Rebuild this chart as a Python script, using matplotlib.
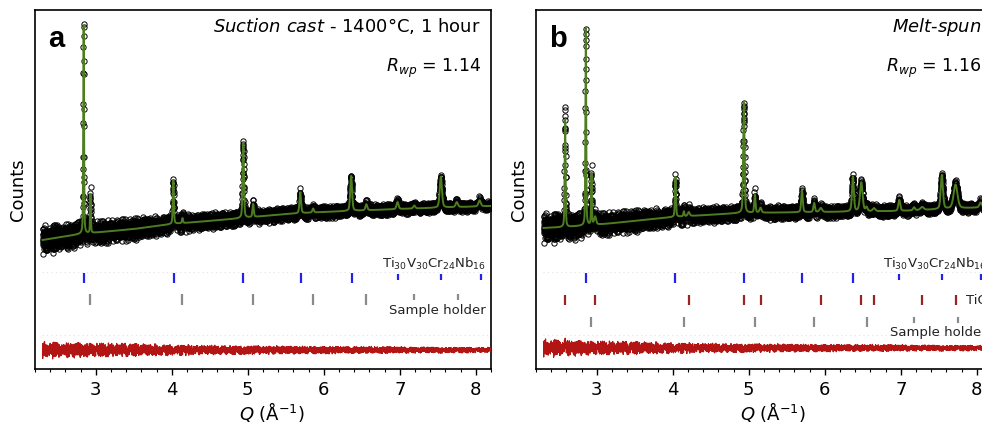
import numpy as np
import matplotlib
matplotlib.use("Agg")
import matplotlib.pyplot as plt
from matplotlib.ticker import MultipleLocator

# ---------------- data ----------------
q_start, q_stop, q_step = 2.3, 8.2, 0.0012

# panel a : suction cast
bg_q_a = [2.3, 2.8, 3.5, 4.0, 4.8, 5.5, 6.0, 7.0, 8.2]
bg_y_a = [129, 135, 140, 145, 150, 155, 157, 160, 163]
peak_q_a = [2.84, 2.93, 4.02, 4.14, 4.94, 5.07, 5.69, 5.86, 6.36, 6.56, 6.97, 7.19, 7.54, 7.75, 8.05]
peak_fit_a = [208, 38, 44, 5, 75, 13, 21, 4, 35, 6, 7, 3, 31, 5, 6]
peak_obs_a = [204, 37, 42, 5, 71, 13, 20, 4, 33, 6, 7, 3, 30, 5, 6]
peak_w_a = [0.012, 0.012, 0.016, 0.016, 0.020, 0.020, 0.024, 0.024, 0.028, 0.028,
            0.030, 0.030, 0.034, 0.034, 0.036]

# panel b : melt-spun
bg_q_b = [2.3, 2.6, 3.1, 4.0, 4.9, 6.0, 7.0, 8.2]
bg_y_b = [141, 142, 145, 152, 156, 157, 158, 162]
peak_q_b = [2.583, 2.855, 2.93, 2.978, 4.035, 4.145, 4.21, 4.935, 5.08, 5.154, 5.70, 5.86,
            5.947, 6.37, 6.48, 6.55, 6.648, 6.98, 7.175, 7.28, 7.54, 7.72, 8.05]
peak_fit_b = [107, 199, 51, 8, 40, 5, 4, 111, 18, 5, 22, 9, 4, 35, 29, 4, 3, 11, 3, 3, 34, 24, 5]
peak_obs_b = [115, 195, 50, 8, 39, 5, 4, 107, 18, 5, 21, 9, 4, 34, 29, 4, 3, 11, 3, 3, 33, 24, 5]
peak_w_b = [0.014, 0.012, 0.012, 0.030, 0.016, 0.016, 0.030, 0.020, 0.020, 0.030, 0.024, 0.024,
            0.040, 0.028, 0.040, 0.028, 0.040, 0.030, 0.030, 0.050, 0.034, 0.060, 0.036]

# scatter half-width of the observed band vs Q
noise_q = [2.3, 3.0, 4.0, 5.0, 6.0, 7.0, 8.2]
noise_amp_a = [16, 13, 10, 8, 7, 6, 5]
noise_amp_b = [17, 13, 10, 8, 7, 6, 5]

# counting-noise offsets (typed sequence)
noise_seq_1 = [0.12, -0.85, 0.47, -0.33, 0.91, -0.06, -0.58, 0.29, 0.74, -0.97, 0.38, -0.21, 0.63,
               -0.72, 0.05, 0.88, -0.44, -0.13, 0.56, -0.67, 0.21, 0.97, -0.38, -0.81, 0.43, 0.09,
               -0.52, 0.69, -0.26, 0.34, -0.93, 0.77, -0.02, -0.61, 0.18, 0.83, -0.47, 0.26, -0.75,
               0.59, -0.17, 0.94, -0.36, -0.08, 0.51, -0.89, 0.32, 0.67, -0.55, 0.03, -0.29, 0.81,
               -0.64, 0.15, 0.45, -0.99, 0.71, -0.11, -0.42, 0.23, 0.86, -0.69, 0.37, -0.24, 0.61,
               -0.83, 0.07, 0.53, -0.49, -0.15, 0.95, -0.31, 0.27, -0.77, 0.65, 0.01, -0.57, 0.41,
               -0.91, 0.19, 0.73, -0.35, -0.04, 0.89, -0.63, 0.31, -0.19, 0.57, -0.87, 0.11, 0.79,
               -0.41, -0.23, 0.49, -0.71, 0.25, 0.93, -0.53, 0.39, -0.09, -0.79]
noise_seq_2 = [-0.44, 0.71, 0.16, -0.92, 0.53, -0.27, 0.84, -0.61, 0.02, 0.38, -0.76, 0.95, -0.13,
               -0.49, 0.67, 0.24, -0.86, 0.41, -0.07, 0.79, -0.58, 0.33, -0.97, 0.12, 0.62, -0.31,
               -0.69, 0.88, 0.06, -0.42, 0.55, -0.83, 0.27, 0.91, -0.18, -0.64, 0.47, 0.14, -0.95,
               0.73, -0.36, 0.21, -0.53, 0.85, -0.09, 0.59, -0.78, 0.35, -0.22, 0.99, -0.66, 0.08,
               0.44, -0.88, 0.29, -0.14, 0.76, -0.51, 0.18, -0.73, 0.64, -0.03, -0.39, 0.82, -0.93,
               0.49, 0.11, -0.59, 0.37, -0.25, 0.69, -0.81, 0.04]

# reflection tick marks (Q positions) and which ones are drawn short
bcc_q_a = [2.84, 4.03, 4.94, 5.70, 6.37, 6.98, 7.54, 8.07]
bcc_short_a = [0, 0, 0, 0, 0, 1, 1, 1]
holder_q_a = [2.93, 4.14, 5.07, 5.86, 6.56, 7.19, 7.76]
holder_short_a = [0, 0, 0, 0, 0, 1, 1]

bcc_q_b = [2.855, 4.035, 4.94, 5.70, 6.37, 6.98, 7.54, 8.05]
bcc_short_b = [0, 0, 0, 0, 0, 1, 1, 1]
tic_q_b = [2.583, 2.978, 4.21, 4.934, 5.154, 5.947, 6.48, 6.648, 7.28, 7.72]
tic_short_b = [0] * 10
holder_q_b = [2.93, 4.145, 5.08, 5.86, 6.55, 7.175, 7.75]
holder_short_b = [0, 0, 0, 0, 0, 1, 1]

title_a = r"$\it{Suction\ cast}$ - 1400°C, 1 hour"
title_b = r"$\it{Melt}$-$\it{spun}$"
rwp_a = r"$R_{wp}$ = 1.14"
rwp_b = r"$R_{wp}$ = 1.16"
label_bcc = r"Ti$_{30}$V$_{30}$Cr$_{24}$Nb$_{16}$"
label_holder = "Sample holder"
label_tic = "TiC"
xticks = [3, 4, 5, 6, 7, 8]

residual_scale = 0.6
resid_offset_a = 19
resid_offset_b = 21

# ---------------- helpers ----------------
def profile(q, centers, heights, widths, eta=0.4):
    out = np.zeros_like(q)
    for c, h, w in zip(centers, heights, widths):
        d2 = 4.0 * (q - c) ** 2 / w ** 2
        out += h * (eta / (1.0 + d2) + (1 - eta) * np.exp(-np.log(2) * d2))
    return out


q = np.arange(q_start, q_stop, q_step)
idx = np.arange(q.size)
n1 = np.asarray(noise_seq_1)[idx % len(noise_seq_1)]
n2 = np.asarray(noise_seq_2)[(idx * 3) % len(noise_seq_2)]
unit_noise = 0.5 * (n1 + n2)


def build(bg_q, bg_y, pq, pfit, pobs, pw, amp):
    bg = np.interp(q, bg_q, bg_y)
    fit = bg + profile(q, pq, pfit, pw)
    obs = bg + profile(q, pq, pobs, pw) + unit_noise * np.interp(q, noise_q, amp)
    return obs, fit


obs_a, fit_a = build(bg_q_a, bg_y_a, peak_q_a, peak_fit_a, peak_obs_a, peak_w_a, noise_amp_a)
obs_b, fit_b = build(bg_q_b, bg_y_b, peak_q_b, peak_fit_b, peak_obs_b, peak_w_b, noise_amp_b)

# ---------------- figure ----------------
W, H = 982, 429
fig = plt.figure(figsize=(W / 100, H / 100), dpi=100)
ax_w = 456 / W
ax_h = 359 / H
ax_b = 60 / H
axA = fig.add_axes([35 / W, ax_b, ax_w, ax_h])
axB = fig.add_axes([536 / W, ax_b, ax_w, ax_h])

GREEN = "#4e7d1f"
RED = "#b31414"
BLUE = "#2222ee"
DKRED = "#9a2424"
GREY = "#8a8a8a"


def tickrow(ax, qs, shorts, y0, y1, color, anchor):
    for qq, s in zip(qs, shorts):
        if s:
            if anchor == "bottom":
                lo, hi = y0 + 0.35 * (y1 - y0), y1 - 0.1 * (y1 - y0)
            else:
                lo, hi = y1 - 0.55 * (y1 - y0), y1
        else:
            lo, hi = y0, y1
        ax.vlines(qq, lo, hi, color=color, lw=1.6, zorder=3)


def panel(ax, obs, fit, offset, letter, title, rwp, rows, labels):
    ax.plot(q, obs, ls="none", marker="o", ms=3.8, mfc="none", mec="black", mew=0.7, zorder=2)
    ax.plot(q, fit, color=GREEN, lw=1.4, zorder=4)
    ax.plot(q, offset + residual_scale * (obs - fit), color=RED, lw=0.9, zorder=3)
    for yy in (97, 34):
        ax.axhline(yy, xmin=0.015, xmax=1.0, color="#e2e2e2", ls=(0, (1, 3)), lw=0.8, zorder=1)
    for r in rows:
        tickrow(ax, *r)
    tr = ax.get_yaxis_transform()
    for (x, y, s, ha, va) in labels:
        ax.text(x, y, s, transform=tr, ha=ha, va=va, fontsize=9.5, color="#222222")
    ax.text(0.028, 0.897, letter, transform=ax.transAxes, ha="left", va="baseline",
            fontsize=21, fontweight="bold", family="Liberation Sans")
    ax.text(0.978, 0.939, title, transform=ax.transAxes, ha="right", va="baseline", fontsize=13)
    ax.text(0.978, 0.827, rwp, transform=ax.transAxes, ha="right", va="baseline", fontsize=12.5)

    ax.set_xlim(2.2, 8.2)
    ax.set_ylim(0, 359)
    ax.set_xticks(xticks)
    ax.xaxis.set_minor_locator(MultipleLocator(0.2))
    ax.set_yticks([])
    ax.tick_params(axis="x", which="major", direction="out", length=4.5, width=1.0,
                   labelsize=13, pad=4)
    ax.tick_params(axis="x", which="minor", direction="out", length=2.4, width=0.8)
    for sp in ax.spines.values():
        sp.set_linewidth(1.2)
    ax.set_ylabel("Counts", fontsize=13, labelpad=6)
    ax.set_xlabel(r"$Q$ (Å$^{-1}$)", fontsize=13, labelpad=3)
    ax.xaxis.set_label_coords(0.52, -0.085)


panel(axA, obs_a, fit_a, resid_offset_a, "a", title_a, rwp_a,
      [(bcc_q_a, bcc_short_a, 86, 96, BLUE, "bottom"),
       (holder_q_a, holder_short_a, 64, 75, GREY, "top")],
      [(0.989, 97, label_bcc, "right", "bottom"),
       (0.989, 65, label_holder, "right", "top")])

panel(axB, obs_b, fit_b, resid_offset_b, "b", title_b, rwp_b,
      [(bcc_q_b, bcc_short_b, 86, 96, BLUE, "bottom"),
       (tic_q_b, tic_short_b, 64, 74, DKRED, "top"),
       (holder_q_b, holder_short_b, 42, 52, GREY, "top")],
      [(0.989, 97, label_bcc, "right", "bottom"),
       (0.943, 69, label_tic, "left", "center"),
       (0.989, 43, label_holder, "right", "top")])

fig.savefig("out.png", dpi=100)
